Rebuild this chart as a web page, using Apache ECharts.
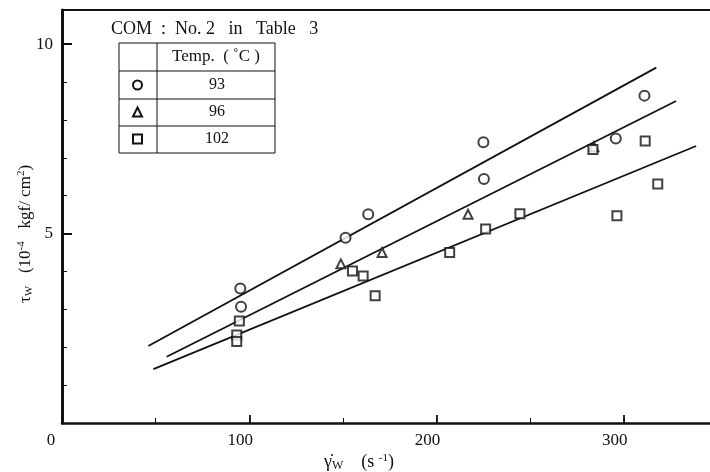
<!DOCTYPE html>
<html>
<head>
<meta charset="utf-8">
<script src="https://cdn.jsdelivr.net/npm/echarts@6/dist/echarts.min.js"></script>
<style>
  html, body { margin: 0; padding: 0; background: #fff; }
  #chart { width: 710px; height: 472px; }
</style>
</head>
<body>
<div id="chart"></div>
<script>
// 读图得到的数据 (shear rate [s^-1], shear stress [1e-4 kgf/cm2])
const temps = ['93', '96', '102']

const pts93 = [[95.2, 3.55], [95.6, 3.07], [151.4, 4.89], [163.5, 5.51],
    [225, 7.41], [225.3, 6.44], [295.7, 7.51], [311, 8.64]]
const pts96 = [[148.9, 4.2], [170.9, 4.5], [216.8, 5.51], [284, 7.29]]
const pts102 = [[94.7, 2.69], [93.3, 2.32], [93.3, 2.15], [155.1, 4.01],
    [160.8, 3.88], [167.2, 3.36], [207, 4.5], [226.2, 5.12], [244.5, 5.52],
    [283.5, 7.22], [296.3, 5.47], [311.4, 7.44], [318.1, 6.31]]

// 回归直线的两个端点
const fit93 = [[46.1, 2.03], [317.3, 9.38]]
const fit96 = [[55.9, 1.75], [327.9, 8.5]]
const fit102 = [[48.8, 1.42], [338.6, 7.31]]

// 刻度
const xMinorTicks = [0, 50, 100, 150, 200, 250, 300]
const xMajorTicks = [100, 200, 300]
const xLabels = [0, 100, 200, 300]
const yMinorTicks = [0, 1, 2, 3, 4, 5, 6, 7, 8, 9, 10]
const yMajorTicks = [5, 10]
const yLabels = [5, 10]

const serif = 'Liberation Serif'
const ink = '#111'
const X_MAX = 346
const Y_MAX = 10.9

const chart = echarts.init(document.getElementById('chart'))

function scatter(name, data, symbol, size) {
    return {
        name: name, type: 'scatter', data: data,
        symbol: symbol, symbolSize: size,
        itemStyle: {color: ink, borderColor: ink, borderWidth: 1.8},
        z: 3
    }
}
function fitLine(name, data) {
    return {
        name: name, type: 'line', data: data, showSymbol: false,
        lineStyle: {color: ink, width: 1.8}, z: 2
    }
}

chart.setOption({
    animation: false,
    backgroundColor: '#fff',
    grid: {left: 62, right: 0, top: 10, bottom: 49, outerBoundsMode: 'none'},
    legend: {
        data: [
            {name: temps[0], icon: 'emptyCircle'},
            {name: temps[1], icon: 'emptyTriangle'},
            {name: temps[2], icon: 'emptyRect'}
        ],
        orient: 'vertical',
        left: 132, top: 76, padding: 0,
        itemWidth: 9, itemHeight: 9, itemGap: 9,
        selectedMode: false,
        itemStyle: {color: ink, borderColor: ink, borderWidth: 1.8},
        formatter: '{a|{name}}',
        textStyle: {
            fontFamily: serif, fontSize: 16, color: ink, lineHeight: 18,
            rich: {a: {width: 140, align: 'center', fontFamily: serif, fontSize: 16, color: ink}}
        }
    },
    graphic: [
        {type: 'text', left: 111, top: 20, style: {text: 'COM  :  No. 2   in   Table   3', font: '18px "Liberation Serif"', fill: ink}},
        {type: 'rect', shape: {x: 119, y: 43, width: 156, height: 110}, style: {fill: null, stroke: ink, lineWidth: 1}},
        {type: 'line', shape: {x1: 157, y1: 43, x2: 157, y2: 153}, style: {stroke: ink, lineWidth: 1}},
        {type: 'line', shape: {x1: 119, y1: 71, x2: 275, y2: 71}, style: {stroke: ink, lineWidth: 1}},
        {type: 'line', shape: {x1: 119, y1: 99, x2: 275, y2: 99}, style: {stroke: ink, lineWidth: 1}},
        {type: 'line', shape: {x1: 119, y1: 126, x2: 275, y2: 126}, style: {stroke: ink, lineWidth: 1}},
        {type: 'text', x: 216, y: 57, style: {text: 'Temp.  ( ˚C )', font: '17px "Liberation Serif"', fill: ink, align: 'center', verticalAlign: 'middle'}}
    ],
    xAxis: [{
        type: 'value', min: 0, max: X_MAX,
        axisLine: {lineStyle: {color: ink, width: 2.5}},
        axisTick: {inside: true, length: 5, customValues: xMinorTicks, lineStyle: {color: ink, width: 1}},
        splitLine: {show: false},
        axisLabel: {
            margin: 9,
            customValues: xLabels,
            formatter: v => v === 0 ? '{z|0}' : '{n|' + v + '}',
            rich: {
                z: {fontFamily: serif, fontSize: 17, color: ink, padding: [0, 22, 0, 0]},
                n: {fontFamily: serif, fontSize: 17, color: ink, padding: [0, 18, 0, 0]}
            }
        },
        name: 'γ̇{sub|W}    (s {sup|-1})',
        nameLocation: 'middle', nameGap: 30, nameMoveOverlap: false,
        nameTextStyle: {
            fontFamily: serif, fontSize: 18, color: ink, padding: [0, 54, 0, 0],
            rich: {
                sub: {fontFamily: serif, fontSize: 12, color: ink, verticalAlign: 'bottom', padding: [6, 0, 0, 0]},
                sup: {fontFamily: serif, fontSize: 11, color: ink, verticalAlign: 'top', padding: [0, 0, 8, 0]}
            }
        }
    }, {
        // 主刻度 100, 200, 300
        type: 'value', min: 0, max: X_MAX, position: 'bottom',
        axisLine: {show: false},
        axisTick: {inside: true, length: 8, customValues: xMajorTicks, lineStyle: {color: ink, width: 1.8}},
        axisLabel: {show: false}, splitLine: {show: false}
    }, {
        // 上边框
        type: 'value', min: 0, max: X_MAX, position: 'top',
        axisLine: {lineStyle: {color: ink, width: 2}},
        axisTick: {show: false}, axisLabel: {show: false}, splitLine: {show: false}
    }],
    yAxis: [{
        type: 'value', min: 0, max: Y_MAX,
        axisLine: {lineStyle: {color: ink, width: 3}},
        axisTick: {inside: true, length: 5, customValues: yMinorTicks, lineStyle: {color: ink, width: 1}},
        splitLine: {show: false},
        axisLabel: {
            margin: 9, fontFamily: serif, fontSize: 17, color: ink,
            customValues: yLabels
        },
        name: 'τ{sub|W}   (10{sup|-4}   kgf/ cm{sup|2})',
        nameLocation: 'middle', nameGap: 27, nameRotate: 90, nameMoveOverlap: false,
        nameTextStyle: {
            fontFamily: serif, fontSize: 17, color: ink, padding: [0, 35, 0, 0],
            rich: {
                sub: {fontFamily: serif, fontSize: 11, color: ink, verticalAlign: 'bottom', padding: [6, 0, 0, 0]},
                sup: {fontFamily: serif, fontSize: 11, color: ink, verticalAlign: 'top', padding: [0, 0, 8, 0]}
            }
        }
    }, {
        // 主刻度 5, 10
        type: 'value', min: 0, max: Y_MAX, position: 'left',
        axisLine: {show: false},
        axisTick: {inside: true, length: 10, customValues: yMajorTicks, lineStyle: {color: ink, width: 2}},
        axisLabel: {show: false}, splitLine: {show: false}
    }],
    series: [
        fitLine(temps[0], fit93),
        fitLine(temps[1], fit96),
        fitLine(temps[2], fit102),
        scatter(temps[0], pts93, 'emptyCircle', 10),
        scatter(temps[1], pts96, 'emptyTriangle', 9),
        scatter(temps[2], pts102, 'emptyRect', 9)
    ]
})
</script>
</body>
</html>
